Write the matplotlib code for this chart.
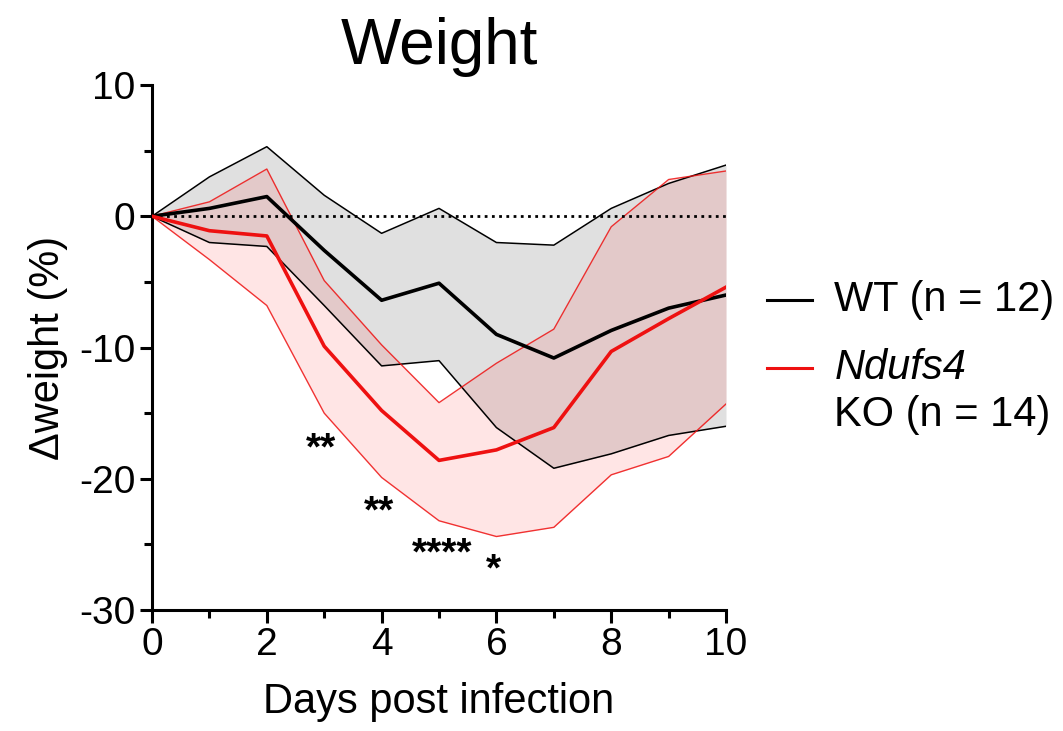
import matplotlib
matplotlib.use("Agg")
import matplotlib.pyplot as plt
from matplotlib.lines import Line2D
from matplotlib.ticker import MultipleLocator
import numpy as np

plt.rcParams["font.family"] = ["Liberation Sans", "DejaVu Sans"]

days = np.arange(0, 11)

# change in body weight (%), mean and band limits per group
wt_mean = [0, 0.6, 1.5, -2.6, -6.4, -5.1, -9.0, -10.8, -8.7, -7.0, -6.0]
wt_upper = [0, 3.0, 5.3, 1.6, -1.3, 0.6, -2.0, -2.2, 0.6, 2.5, 3.9]
wt_lower = [0, -2.0, -2.3, -6.8, -11.4, -11.0, -16.1, -19.2, -18.1, -16.7, -16.0]

ko_mean = [0, -1.1, -1.5, -9.9, -14.8, -18.6, -17.8, -16.1, -10.3, -7.8, -5.4]
ko_upper = [0, 1.1, 3.6, -4.9, -9.8, -14.2, -11.2, -8.6, -0.8, 2.8, 3.45]
ko_lower = [0, -3.3, -6.8, -15.0, -19.9, -23.2, -24.4, -23.7, -19.7, -18.3, -14.3]

# significance marks (day, y position, label)
sig_x = [2.95, 3.95, 5.05, 5.95]
sig_y = [-17.8, -22.6, -25.8, -27.0]
sig_labels = ["**", "**", "****", "*"]

wt_color = "black"
ko_color = "#ee1111"

fig = plt.figure(figsize=(10.63, 7.31), dpi=100)
ax = fig.add_axes([0.143, 0.1655, 0.540, 0.7182])

ax.fill_between(days, wt_lower, wt_upper, color="black", alpha=0.12, lw=0, zorder=1)
ax.fill_between(days, ko_lower, ko_upper, color="red", alpha=0.10, lw=0, zorder=2)

ax.plot(days, wt_upper, color=wt_color, lw=1.1, zorder=3)
ax.plot(days, wt_lower, color=wt_color, lw=1.1, zorder=3)
ax.plot(days, ko_upper, color=ko_color, lw=1.0, alpha=0.85, zorder=3)
ax.plot(days, ko_lower, color=ko_color, lw=1.0, alpha=0.85, zorder=3)

ax.axhline(0, color="black", lw=2, ls=(0, (1, 1.6)), zorder=4)

ax.plot(days, wt_mean, color=wt_color, lw=2.6, zorder=5)
ax.plot(days, ko_mean, color=ko_color, lw=2.6, zorder=5)

for x, y, s in zip(sig_x, sig_y, sig_labels):
    ax.text(x, y, s, ha="center", va="center", fontsize=28, fontweight="bold")

ax.set_xlim(0, 10)
ax.set_ylim(-30, 10)
ax.xaxis.set_minor_locator(MultipleLocator(1))
ax.yaxis.set_minor_locator(MultipleLocator(5))
ax.set_xticks([0, 2, 4, 6, 8, 10])
ax.set_yticks([-30, -20, -10, 0, 10])
ax.set_yticklabels(["-30", "-20", "-10", "0", "10"])

for side in ("top", "right"):
    ax.spines[side].set_visible(False)
for side in ("left", "bottom"):
    ax.spines[side].set_linewidth(2.2)
ax.tick_params(which="major", length=9, width=2.2, labelsize=28, pad=3)
ax.tick_params(which="minor", length=6, width=2.2)

ax.set_xlabel("Days post infection", fontsize=30, labelpad=14)
ax.set_ylabel("Δweight (%)", fontsize=30, labelpad=8)
ax.set_title("Weight", fontsize=46, pad=15)

# legend drawn by hand so the red key sits on the first text line
fig.add_artist(Line2D([0.722, 0.764], [0.590, 0.590], color=wt_color, lw=2.2))
fig.text(0.785, 0.590, "WT (n = 12)", fontsize=30, va="center")
fig.add_artist(Line2D([0.722, 0.764], [0.497, 0.497], color=ko_color, lw=2.2))
fig.text(0.785, 0.497, "Ndufs4", fontsize=30, style="italic", va="center")
fig.text(0.785, 0.432, "KO (n = 14)", fontsize=30, va="center")

fig.savefig("out.png", dpi=100)
